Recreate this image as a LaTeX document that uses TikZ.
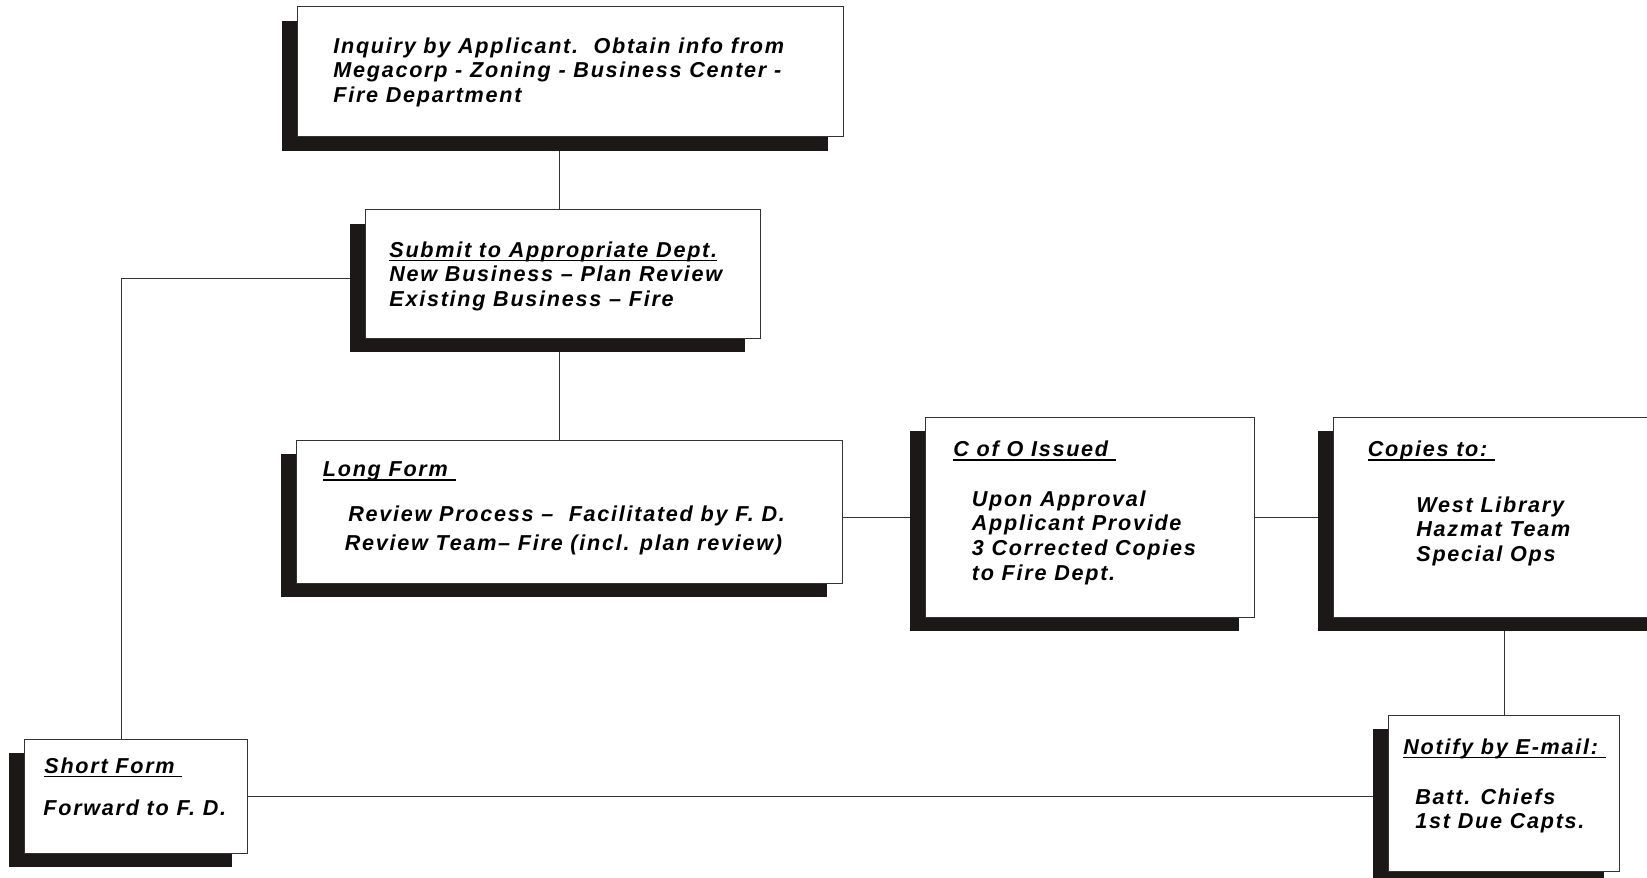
\documentclass[tikz,border=0pt]{standalone}
\usepackage{fontspec}
\newfontfamily\boxfont[LetterSpace=8]{Liberation Sans}
\usepackage{tikz}
\usetikzlibrary{shadows,backgrounds}
\definecolor{shade}{HTML}{1C1818}
\newcommand{\headul}[1]{\setbox0\hbox{#1}\rlap{\rule[-2.2pt]{\wd0}{0.9pt}}\box0}

\begin{document}
\begin{tikzpicture}[x=0.5pt, y=-0.5pt,
	box/.style = {draw=black!80, line width=0.5pt, fill=white, drop shadow={shadow xshift=-7.5pt, shadow yshift=-7pt, fill=shade, opacity=1}},
	txt/.style = {inner sep=0pt, anchor=north west, align=left, font=\boxfont\bfseries\itshape\fontsize{10.8}{12.35}\selectfont}]

	\useasboundingbox (0,0) rectangle (1647,877);

	\node[box, minimum width=273pt, minimum height=65pt] (Inq) at (570, 72) {};
	\node[box, minimum width=197.5pt, minimum height=64pt] (Sub) at (562.5, 274) {};
	\node[box, minimum width=273pt, minimum height=71.5pt] (Long) at (569, 511.5) {};
	\node[box, minimum width=164.5pt, minimum height=100pt] (CofO) at (1089.5, 517) {};
	\node[box, minimum width=168.5pt, minimum height=100pt] (Copies) at (1501.5, 517) {};
	\node[box, minimum width=111.5pt, minimum height=57pt] (Short) at (135.5, 796) {};
	\node[box, minimum width=115.5pt, minimum height=78pt] (Notify) at (1503.5, 793) {};

	\node[txt] (InqT) at (333, 37) {Inquiry by Applicant.\ \ Obtain info from\\Megacorp - Zoning - Business Center -\\Fire Department};
	\node[txt] (SubT) at (389, 241) {\headul{Submit to Appropriate Dept.}\\New Business – Plan Review\\Existing Business – Fire};
	\node[txt] (LongH) at (322.5, 461.5) {\headul{Long Form\ }};
	\node[txt, font=\boxfont\bfseries\itshape\fontsize{10.8}{14.7}\selectfont] (LongT) at (344.5, 505.5) {\hspace*{1.75pt}Review Process –\ \ Facilitated by F. D.\\Review Team– Fire (incl. plan review)};
	\node[txt] (CofOH) at (953, 440.5) {\headul{C of O Issued\ }};
	\node[txt] (CofOT) at (971.5, 490) {Upon Approval\\Applicant Provide\\3 Corrected Copies\\to Fire Dept.};
	\node[txt] (CopiesH) at (1367.5, 440.5) {\headul{Copies to:\ }};
	\node[txt] (CopiesT) at (1416, 496) {West Library\\Hazmat Team\\Special Ops};
	\node[txt] (ShortH) at (44, 757) {\headul{Short Form\ }};
	\node[txt] (ShortT) at (43, 799) {Forward to F. D.};
	\node[txt] (NotifyH) at (1403, 738) {\headul{Notify by E-mail:\ }};
	\node[txt] (NotifyT) at (1415, 788) {Batt. Chiefs\\1st Due Capts.};

	\begin{pgfonlayer}{background}
	\fill[white] (0,0) rectangle (1647,877);
	\draw[-, black!80, line width=0.5pt] ([xshift=-1.75pt]Sub.north) -- ([xshift=-1.75pt]Sub.north |- Inq.south);
	\draw[-, black!80, line width=0.5pt] ([xshift=-1.75pt]Sub.south) -- ([xshift=-1.75pt]Sub.south |- Long.north);
	\draw[-, black!80, line width=0.5pt] ([yshift=-2pt]Sub.west) -| ([xshift=-7pt]Short.north);
	\draw[-, black!80, line width=0.5pt] (Long.east |- CofO.west) -- (CofO.west);
	\draw[-, black!80, line width=0.5pt] (CofO.east) -- (Copies.west);
	\draw[-, black!80, line width=0.5pt] ([xshift=1.5pt]Copies.south) -- ([xshift=1.5pt]Copies.south |- Notify.north);
	\draw[-, black!80, line width=0.5pt] (Short.east) -- (Short.east -| Notify.west);
	\end{pgfonlayer}

\end{tikzpicture}
\end{document}
